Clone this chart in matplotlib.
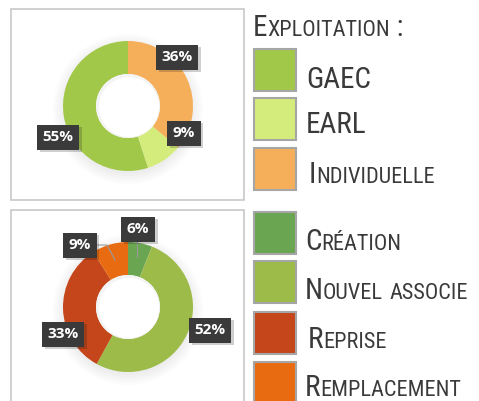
import matplotlib
matplotlib.use('Agg')
import matplotlib.pyplot as plt
from matplotlib.patches import Rectangle, Circle
from matplotlib import patheffects as pe

# data
top_categories = ['GAEC', 'EARL', 'Individuelle']
top_values = [55, 9, 36]
top_colors = ['#a2c84a', '#d4ec7c', '#f5af5a']

bot_categories = ['Création', 'Nouvel associe', 'Reprise', 'Remplacement']
bot_values = [6, 52, 33, 9]
bot_colors = ['#6aa552', '#9cbb48', '#c4461a', '#e86b12']

legend_title = 'Exploitation :'

W, H = 479, 401
fig = plt.figure(figsize=(W / 100, H / 100), dpi=100)
ax = fig.add_axes([0, 0, 1, 1])

def Y(y):
    return H - y

# frames
ax.add_patch(Rectangle((11, Y(200)), 233, 191, fill=False, ec='#c8c8c8', lw=1.2))
ax.add_patch(Rectangle((11, Y(410)), 233, 200, fill=False, ec='#c8c8c8', lw=1.2))

def shadow(cx, cy, r):
    for i in range(6):
        ax.add_patch(Circle((cx, Y(cy + 3)), r + i * 2, color='#909090', alpha=0.025, lw=0))

def hole(cx, cy, r):
    ax.add_patch(Circle((cx, Y(cy)), r, color='#f4f4f4', lw=0, zorder=3))
    ax.add_patch(Circle((cx + 1, Y(cy + 1)), r - 2, color='white', lw=0, zorder=3))

# top donut
shadow(128, 106, 65)
ax.pie(top_values, colors=top_colors, radius=65, center=(128, Y(106)),
       startangle=90, counterclock=True, wedgeprops=dict(width=33, lw=0),
       frame=True)
hole(128, 106, 32)
# bottom donut
shadow(128, 307, 65)
ax.pie(bot_values, colors=bot_colors, radius=65, center=(128, Y(307)),
       startangle=90, counterclock=False, wedgeprops=dict(width=33, lw=0),
       frame=True)
hole(128, 307, 32)

ax.set_xlim(0, W)
ax.set_ylim(0, H)
ax.set_aspect('equal')
ax.axis('off')

# leader lines
ax.plot([97, 107, 115], [Y(245), Y(245), Y(260)], color='#9a9a9a', lw=0.8, zorder=4)
ax.plot([137, 137], [Y(240), Y(257)], color='#9a9a9a', lw=0.8, zorder=4)

def label(x, y, v):
    t = ax.text(x, Y(y), f'{v}%', color='white', fontsize=11, fontweight='bold',
                family='Open Sans', ha='center', va='center', zorder=5,
                bbox=dict(boxstyle='square,pad=0.36', fc='#3a3a3a', ec='none'))
    t.get_bbox_patch().set_path_effects(
        [pe.SimplePatchShadow(offset=(2, -2), alpha=0.2), pe.Normal()])

top_pos = [(58, 137), (184, 133), (177, 57)]
for (x, y), v in zip(top_pos, top_values):
    label(x, y, v)
bot_pos = [(138, 229), (210, 330), (63, 334), (80, 245)]
for (x, y), v in zip(bot_pos, bot_values):
    label(x, y, v)

# legend with small caps
fig.canvas.draw()
renderer = fig.canvas.get_renderer()
FONT = ['Roboto Condensed', 'DejaVu Sans']

def smallcaps(x, y, s, big=21, small=16):
    runs = []
    for ch in s:
        is_big = not ch.islower()
        if runs and runs[-1][0] == is_big:
            runs[-1][1] += ch
        else:
            runs.append([is_big, ch])
    px = x
    for is_big, txt in runs:
        t = ax.text(px, Y(y), txt.upper(), fontsize=big if is_big else small,
                    family=FONT, color='#3a3a3a', ha='left', va='baseline')
        px += t.get_window_extent(renderer).width

smallcaps(253, 36, legend_title)
sw = 42
top_rows = [(49, 88, 306), (98, 133, 306), (148, 183, 309)]
for (sy, by, tx), c, name in zip(top_rows, top_colors, top_categories):
    ax.add_patch(Rectangle((254, Y(sy + sw)), sw, sw, fc=c, ec='#a6a6a6', lw=1.5))
    smallcaps(tx, by, name)

bot_rows = [(212, 250, 305), (261, 299, 305), (312, 348, 308), (362, 396, 305)]
for (sy, by, tx), c, name in zip(bot_rows, bot_colors, bot_categories):
    ax.add_patch(Rectangle((254, Y(sy + sw)), sw, sw, fc=c, ec='#a6a6a6', lw=1.5))
    smallcaps(tx, by, name)

fig.savefig('out.png', dpi=100)
